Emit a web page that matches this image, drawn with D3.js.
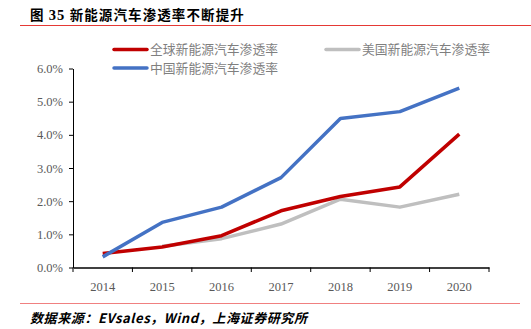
<!DOCTYPE html>
<html><head><meta charset="utf-8">
<script src="https://cdn.jsdelivr.net/npm/d3@7"></script>
<style>
body{margin:0;background:#fff;}
svg{display:block;}
</style></head>
<body>
<svg id="c" width="531" height="329"></svg>
<script>
const years = ["2014","2015","2016","2017","2018","2019","2020"];
const globalRate = [0.42,0.62,0.96,1.71,2.14,2.43,4.02];
const usRate = [null,0.64,0.87,1.31,2.06,1.82,2.21];
const chinaRate = [0.32,1.36,1.82,2.71,4.49,4.70,5.41];
const yTicks = [0,1,2,3,4,5,6];
const seriesNames = ["全球新能源汽车渗透率","美国新能源汽车渗透率","中国新能源汽车渗透率"];
const colors = ["#C00000","#BFBFBF","#4472C4"];
const titlePrefix = "图 ";
const titleNum = "35";
const titleMain = " 新能源汽车渗透率不断提升";
const sourceText = "数据来源：EVsales，Wind，上海证券研究所";

const svg = d3.select("#c");
const x = d3.scaleBand().domain(years).range([73,489]).paddingInner(0).paddingOuter(0);
const y = d3.scaleLinear().domain([0,6]).range([267.5,68.5]);

// title
const t = svg.append("text").attr("x",30).attr("y",20)
  .attr("font-family","'Noto Sans CJK SC', sans-serif").attr("font-weight","bold")
  .attr("font-size",13.5).attr("fill","#000").attr("letter-spacing",1.1);
t.append("tspan").text(titlePrefix);
t.append("tspan").text(titleNum).attr("font-family","'Liberation Serif', serif").attr("font-size",14.5);
t.append("tspan").text(titleMain);
svg.append("line").attr("x1",20).attr("x2",531).attr("y1",25.5).attr("y2",25.5)
  .attr("stroke","#E53935").attr("stroke-width",1.2);

// axes
const yAxis = d3.axisLeft(y).tickValues(yTicks).tickFormat(d=>d.toFixed(1)+"%").tickSize(4).tickSizeOuter(0);
const gy = svg.append("g").attr("transform","translate(73,0)").call(yAxis);
gy.selectAll("text").attr("font-family","'Liberation Serif', serif").attr("font-size",12.5).attr("fill","#595959").attr("dx","-3");
gy.select(".domain").attr("stroke","#000");
gy.selectAll(".tick line").attr("stroke","#000");

const xAxis = d3.axisBottom(x).tickSize(0).tickSizeOuter(0);
const gx = svg.append("g").attr("transform","translate(0,267.5)").call(xAxis);
gx.select(".domain").attr("stroke","#000").attr("stroke-width",1.3);
gx.selectAll("text").attr("font-family","'Liberation Serif', serif").attr("font-size",12.5).attr("fill","#595959").attr("dy","1.6em");
// boundary ticks
const bounds = years.map(d=>x(d)).concat([x(years[years.length-1])+x.bandwidth()]);
svg.append("g").selectAll("line").data(bounds).join("line")
  .attr("x1",d=>d).attr("x2",d=>d).attr("y1",267.5).attr("y2",272).attr("stroke","#000");

// lines
const cx = d => x(d)+x.bandwidth()/2;
const line = d3.line().defined(d=>d.v!=null).x(d=>cx(d.k)).y(d=>y(d.v));
const data = [globalRate, usRate, chinaRate];
const order = [1,0,2];
order.forEach(i=>{
  svg.append("path").datum(years.map((k,j)=>({k,v:data[i][j]})))
    .attr("d",line).attr("fill","none").attr("stroke",colors[i]).attr("stroke-width",3.5)
    .attr("stroke-linejoin","round");
});

// legend
const legend = [
  {i:0,x:114,y:49.5},
  {i:1,x:326,y:49.5},
  {i:2,x:114,y:68}
];
legend.forEach(l=>{
  svg.append("line").attr("x1",l.x).attr("x2",l.x+33).attr("y1",l.y).attr("y2",l.y)
    .attr("stroke",colors[l.i]).attr("stroke-width",3.5).attr("stroke-linecap","round");
  svg.append("text").attr("x",l.x+36).attr("y",l.y+4.5).text(seriesNames[l.i])
    .attr("font-family","'Noto Sans CJK SC', sans-serif").attr("font-size",12.8).attr("fill","#7F7F7F");
});

// bottom
svg.append("line").attr("x1",20).attr("x2",520).attr("y1",303.5).attr("y2",303.5)
  .attr("stroke","#F08080").attr("stroke-width",1.2);
svg.append("text").attr("x",30).attr("y",323).text(sourceText)
  .attr("font-family","'Noto Sans CJK SC', sans-serif").attr("font-weight","bold").attr("font-style","italic")
  .attr("font-size",13).attr("fill","#000").attr("letter-spacing",0.6);
</script>
</body></html>
